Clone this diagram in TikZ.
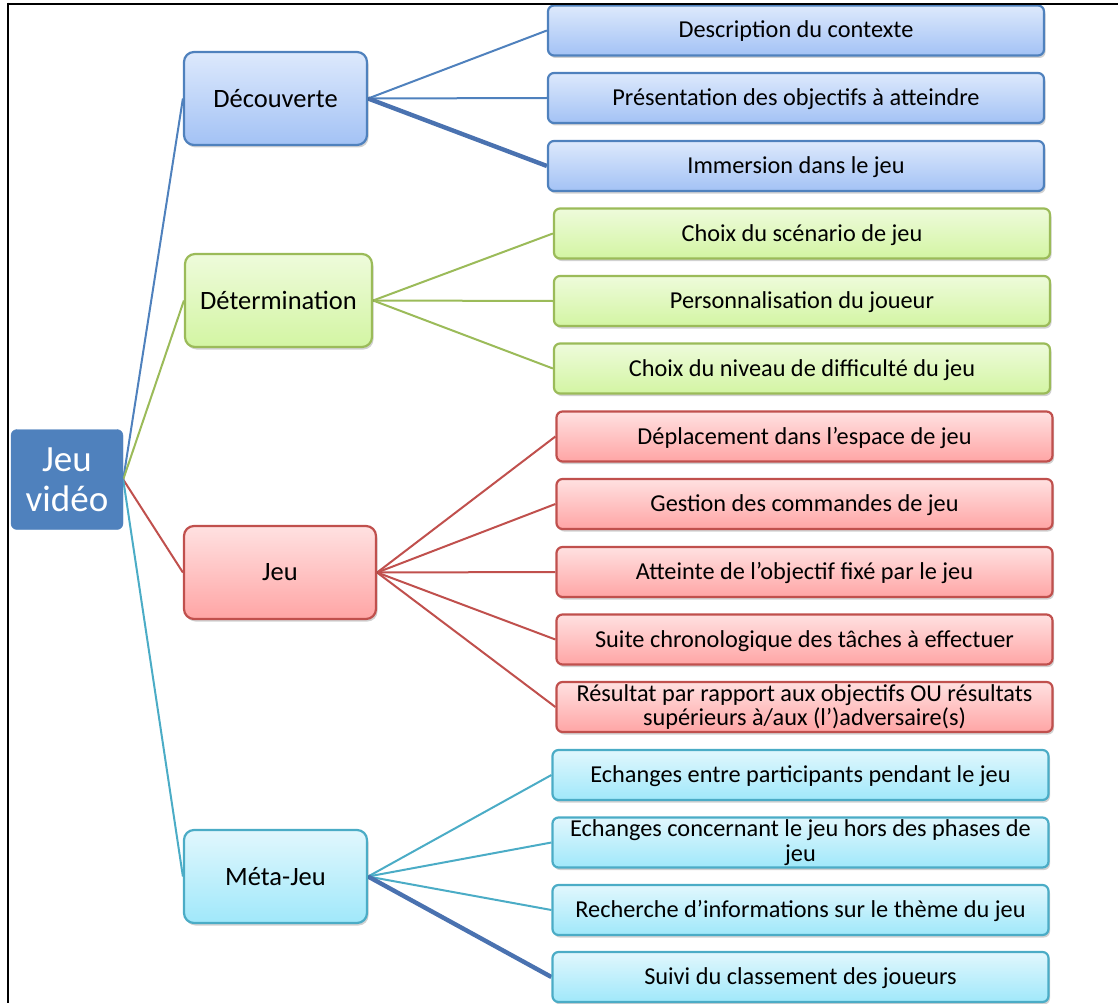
\documentclass[tikz,border=0pt]{standalone}
\usepackage{fontspec}
\setmainfont{Carlito}
\usetikzlibrary{shadows,backgrounds}
\definecolor{cBlue}{RGB}{79,129,189}
\definecolor{cGreen}{RGB}{155,187,89}
\definecolor{cRed}{RGB}{192,80,77}
\definecolor{cCyan}{RGB}{75,172,198}
\definecolor{cDark}{RGB}{74,114,176}
\definecolor{bTop}{RGB}{221,233,252}
\definecolor{bBot}{RGB}{163,194,245}
\definecolor{gTop}{RGB}{238,251,219}
\definecolor{gBot}{RGB}{211,245,163}
\definecolor{rTop}{RGB}{255,225,225}
\definecolor{rBot}{RGB}{255,165,165}
\definecolor{cTop}{RGB}{225,247,253}
\definecolor{cBot}{RGB}{160,232,250}
\newcommand{\lowstrut}{\rule[-5pt]{0pt}{25pt}}
\tikzset{
  boxbase/.style={draw, line width=2.2pt, align=center, inner sep=2pt,
    drop shadow={shadow xshift=1.5pt, shadow yshift=-2.5pt, opacity=0.18, fill=black}},
  lvlone/.style={boxbase, rounded corners=10pt, minimum height=93pt,
    font=\fontsize{26.5}{31}\selectfont},
  leaf/.style={boxbase, rounded corners=6pt, minimum width=496pt, minimum height=50pt,
    font=\fontsize{24.3}{24.5}\selectfont},
  oneline/.style={leaf, execute at begin node=\lowstrut},
  blueB/.style={draw=cBlue, top color=bTop, bottom color=bBot},
  greenB/.style={draw=cGreen, top color=gTop, bottom color=gBot},
  redB/.style={draw=cRed, top color=rTop, bottom color=rBot},
  cyanB/.style={draw=cCyan, top color=cTop, bottom color=cBot},
  link/.style={line width=2pt},
  thicklink/.style={line width=4.4pt, draw=cDark},
}
\begin{document}
\begin{tikzpicture}[x=1pt,y=-1pt]
\useasboundingbox (0,0) rectangle (1118,1003);

% root
\node[fill=cBlue, draw=cBlue, rounded corners=6pt, minimum width=112pt, minimum height=100pt,
  text=white, align=center, font=\fontsize{37}{40}\selectfont, inner sep=1pt]
  (root) at (67,479.5) {Jeu\\vidéo};

% level one
\node[lvlone, blueB, minimum width=183pt] (dec) at (275.5,98.5) {Découverte};
\node[lvlone, greenB, minimum width=187pt] (det) at (278.5,300.5) {Détermination};
\node[lvlone, redB, minimum width=192pt] (jeu) at (280,572.5) {Jeu};
\node[lvlone, cyanB, minimum width=183pt] (meta) at (275.5,876.5) {Méta-Jeu};

% leaves blue
\node[oneline, blueB] (b1) at (796,30.5) {Description du contexte};
\node[oneline, blueB] (b2) at (796,98) {Présentation des objectifs à atteindre};
\node[oneline, blueB] (b3) at (796,166) {Immersion dans le jeu};
% leaves green
\node[oneline, greenB] (g1) at (802,233.5) {Choix du scénario de jeu};
\node[oneline, greenB] (g2) at (802,301) {Personnalisation du joueur};
\node[oneline, greenB] (g3) at (802,368.5) {Choix du niveau de difficulté du jeu};
% leaves red
\node[oneline, redB] (r1) at (804.5,436.5) {Déplacement dans l’espace de jeu};
\node[oneline, redB] (r2) at (804.5,504) {Gestion des commandes de jeu};
\node[oneline, redB] (r3) at (804.5,572) {Atteinte de l’objectif fixé par le jeu};
\node[oneline, redB] (r4) at (804.5,639.5) {Suite chronologique des tâches à effectuer};
\node[leaf, redB] (r5) at (804.5,707) {Résultat par rapport aux objectifs OU résultats\\supérieurs à/aux (l’)adversaire(s)};
% leaves cyan
\node[oneline, cyanB] (c1) at (800.5,775) {Echanges entre participants pendant le jeu};
\node[leaf, cyanB] (c2) at (800.5,842.5) {Echanges concernant le jeu hors des phases de\\jeu};
\node[oneline, cyanB] (c3) at (800.5,910) {Recherche d’informations sur le thème du jeu};
\node[oneline, cyanB] (c4) at (800.5,977) {Suivi du classement des joueurs};

\begin{scope}[on background layer]
\draw[link, cBlue] (root.east) -- (dec.west);
\draw[link, cGreen] (root.east) -- (det.west);
\draw[link, cRed] (root.east) -- (jeu.west);
\draw[link, cCyan] (root.east) -- (meta.west);

\draw[link, cBlue] (dec.east) -- (b1.west);
\draw[link, cBlue] (dec.east) -- (b2.west);
\draw[thicklink] (dec.east) -- (b3.west);

\draw[link, cGreen] (det.east) -- (g1.west);
\draw[link, cGreen] (det.east) -- (g2.west);
\draw[link, cGreen] (det.east) -- (g3.west);

\foreach \n in {r1,r2,r3,r4,r5} \draw[link, cRed] (jeu.east) -- (\n.west);

\draw[link, cCyan] (meta.east) -- (c1.west);
\draw[link, cCyan] (meta.east) -- (c2.west);
\draw[link, cCyan] (meta.east) -- (c3.west);
\draw[thicklink] (meta.east) -- (c4.west);
\end{scope}

% frame
\draw[line width=2.6pt] (7,4) -- (1118,4);
\draw[line width=2.4pt] (8,2.7) -- (8,1003);
\end{tikzpicture}
\end{document}
